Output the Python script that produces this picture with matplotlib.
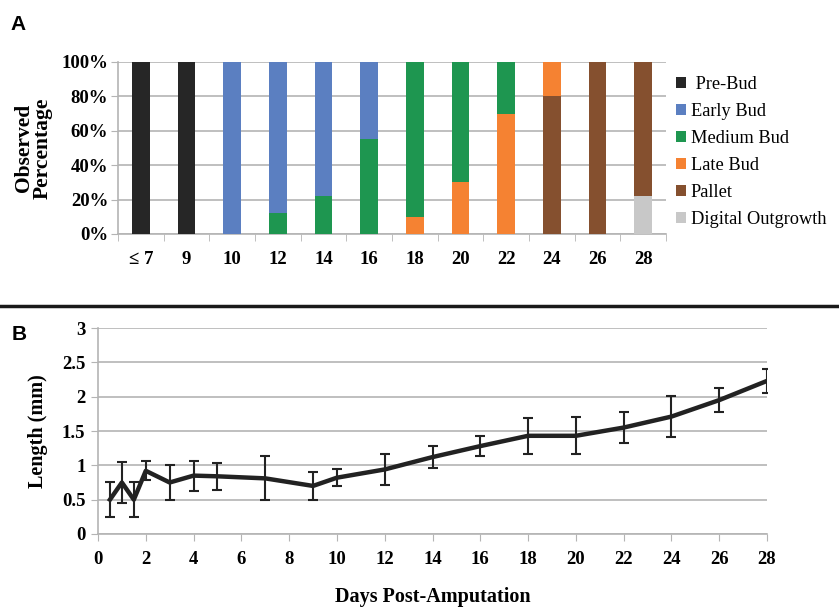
import matplotlib.pyplot as plt
from matplotlib.patches import Patch
from matplotlib.lines import Line2D
import numpy as np

# Panel A: stage percentages per day
days_a = ["≤ 7", "9", "10", "12", "14", "16", "18", "20", "22", "24", "26", "28"]
stages = [" Pre-Bud", "Early Bud", "Medium Bud", "Late Bud", "Pallet", "Digital Outgrowth"]
pre_bud = [100, 100, 0, 0, 0, 0, 0, 0, 0, 0, 0, 0]
early_bud = [0, 0, 100, 88, 78, 45, 0, 0, 0, 0, 0, 0]
medium_bud = [0, 0, 0, 12, 22, 55, 90, 70, 30, 0, 0, 0]
late_bud = [0, 0, 0, 0, 0, 0, 10, 30, 70, 20, 0, 0]
pallet = [0, 0, 0, 0, 0, 0, 0, 0, 0, 80, 100, 78]
digital = [0, 0, 0, 0, 0, 0, 0, 0, 0, 0, 0, 22]
stage_colors = ["#262626", "#5b7fc1", "#1e9650", "#f58232", "#85502f", "#c8c8c8"]

# Panel B: length over time
days_b = [0.5, 1, 1.5, 2, 3, 4, 5, 7, 9, 10, 12, 14, 16, 18, 20, 22, 24, 26, 28]
length = [0.5, 0.75, 0.5, 0.92, 0.75, 0.85, 0.84, 0.81, 0.70, 0.82, 0.94, 1.12,
          1.28, 1.43, 1.43, 1.55, 1.71, 1.95, 2.23]
length_err = [0.25, 0.30, 0.25, 0.14, 0.25, 0.22, 0.20, 0.32, 0.21, 0.12, 0.23, 0.16,
              0.145, 0.26, 0.27, 0.22, 0.30, 0.17, 0.18]

serif = "Liberation Serif"
grid_c = "#b4b4b4"

fig = plt.figure(figsize=(8.39, 6.07), dpi=100)

# ---- A ----
axA = fig.add_axes([0.1406, 0.6145, 0.6532, 0.2834])
x = np.arange(len(days_a))
stack = [digital, pallet, late_bud, medium_bud, early_bud, pre_bud]
stack_cols = stage_colors[::-1]
bottom = np.zeros(len(days_a))
for vals, c in zip(stack, stack_cols):
    axA.bar(x, vals, bottom=bottom, width=0.39, color=c, zorder=3)
    bottom += np.array(vals)
axA.set_xlim(-0.5, len(days_a) - 0.5)
axA.set_ylim(0, 100)
axA.set_yticks(range(0, 101, 20))
axA.set_yticklabels([f"{v}%" for v in range(0, 101, 20)])
axA.set_xticks(x)
axA.set_xticklabels(days_a)
axA.set_xticks(np.arange(-0.5, len(days_a)), minor=True)
axA.tick_params(axis="x", which="major", length=0, pad=12)
axA.tick_params(axis="x", which="minor", length=5, color=grid_c)
axA.tick_params(axis="y", length=5, color=grid_c, pad=2)
axA.yaxis.grid(True, color=grid_c, linewidth=1.2, zorder=0)
for s in ["top", "right"]:
    axA.spines[s].set_visible(False)
for s in ["left", "bottom"]:
    axA.spines[s].set_color(grid_c)
    axA.spines[s].set_linewidth(1.2)
for lab in axA.get_xticklabels() + axA.get_yticklabels():
    lab.set_fontfamily(serif)
    lab.set_fontweight("bold")
    lab.set_fontsize(13.5)
axA.set_ylabel("Observed\nPercentage", fontfamily=serif, fontweight="bold",
               fontsize=15.5, linespacing=0.95, labelpad=6)

handles = [Patch(facecolor=c, edgecolor="none") for c in stage_colors]
fig.legend(handles, stages, loc="upper left", bbox_to_anchor=(0.797, 0.887),
           frameon=False, prop={"family": serif, "size": 13.2},
           handlelength=0.55, handleheight=0.55, handletextpad=0.25,
           labelspacing=0.55, borderaxespad=0)

fig.text(0.012, 0.975, "A", fontfamily="Liberation Sans", fontweight="bold",
         fontsize=15, va="top")

# separator
fig.add_artist(Line2D([0, 1], [1 - 306 / 607, 1 - 306 / 607], color="#1a1a1a",
                      linewidth=2.5, transform=fig.transFigure))

# ---- B ----
axB = fig.add_axes([0.1168, 0.1203, 0.7974, 0.3393])
axB.errorbar(days_b, length, yerr=length_err, color="#222222", linewidth=3.2,
             elinewidth=1.5, capsize=3.5, capthick=1.5, zorder=3)
axB.set_xlim(0, 28)
axB.set_ylim(0, 3)
axB.set_xticks(range(0, 29, 2))
axB.set_yticks(np.arange(0, 3.01, 0.5))
axB.set_yticklabels(["0", "0.5", "1", "1.5", "2", "2.5", "3"])
axB.yaxis.grid(True, color=grid_c, linewidth=1.2, zorder=0)
axB.tick_params(axis="both", length=5, color=grid_c)
axB.tick_params(axis="x", pad=7)
axB.tick_params(axis="y", pad=4)
for s in ["top", "right"]:
    axB.spines[s].set_visible(False)
for s in ["left", "bottom"]:
    axB.spines[s].set_color(grid_c)
    axB.spines[s].set_linewidth(1.2)
for lab in axB.get_xticklabels() + axB.get_yticklabels():
    lab.set_fontfamily(serif)
    lab.set_fontweight("bold")
    lab.set_fontsize(13.5)
axB.set_ylabel("Length (mm)", fontfamily=serif, fontweight="bold", fontsize=14.5,
               labelpad=10)
axB.set_xlabel("Days Post-Amputation", fontfamily=serif, fontweight="bold",
               fontsize=14.5, labelpad=14)

fig.text(0.014, 1 - 325 / 607, "B", fontfamily="Liberation Sans", fontweight="bold",
         fontsize=15, va="top")

fig.savefig("out.png", dpi=100)
